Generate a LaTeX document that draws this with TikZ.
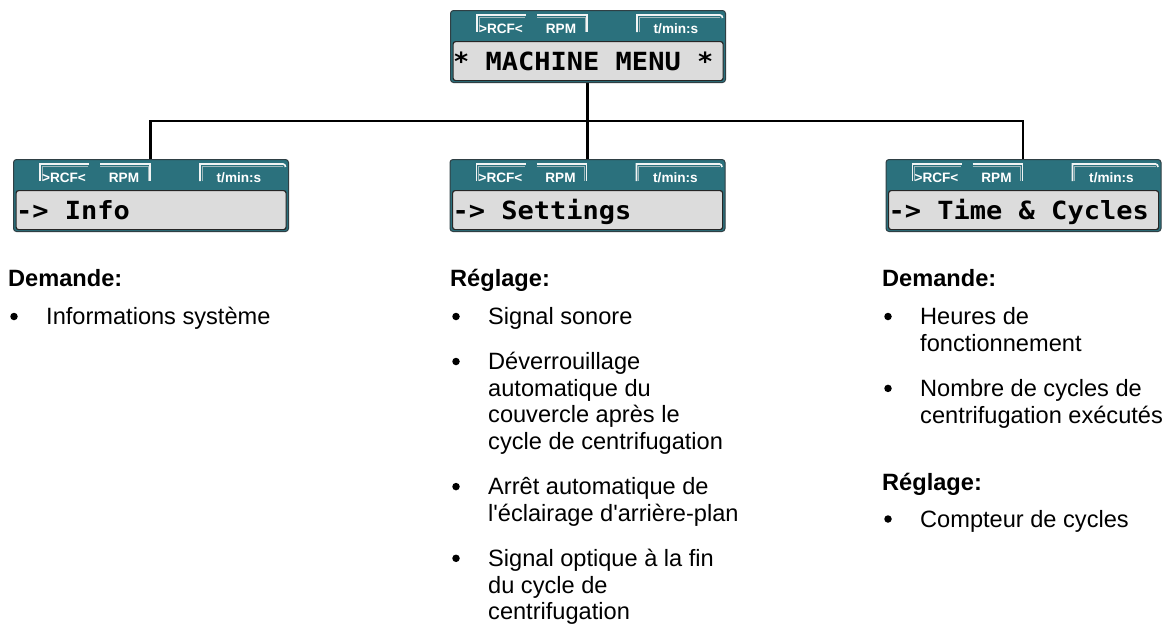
\documentclass[tikz,border=0pt]{standalone}
\usepackage{fontspec}
\setmainfont{Liberation Sans}
\newfontfamily\lcdfont{DejaVu Sans Mono}[FakeStretch=1.08]
\usetikzlibrary{calc}
\definecolor{panelteal}{HTML}{2B717D}
\definecolor{paneledge}{HTML}{2F3F44}
\definecolor{lcdfill}{HTML}{DCDCDC}
\definecolor{tabwhite}{HTML}{F2F4F4}
\definecolor{tabshade}{HTML}{9FB8BC}
\tikzset{
  panel/.style={draw=paneledge, line width=1pt, fill=panelteal, rounded corners=3pt,
    minimum width=275pt, minimum height=72pt, inner sep=0pt, anchor=north west},
  lcd/.style={draw=black!85, line width=1.2pt, fill=lcdfill, rounded corners=2.5pt,
    minimum width=270pt, minimum height=39pt, inner sep=0pt, anchor=north west},
  lcdtext/.style={anchor=base west, inner sep=0pt, font=\lcdfont\bfseries\fontsize{25}{25}\selectfont},
  tabline/.style={draw=tabwhite, line width=1.6pt},
  tabsh/.style={draw=tabshade, line width=0.8pt},
  tablabel/.style={anchor=base, inner sep=0pt, text=white, font=\bfseries\fontsize{13.6}{14}\selectfont},
  conn/.style={draw=black, line width=2.8pt},
  body/.style={anchor=base west, inner sep=0pt, font=\fontsize{23.6}{26.7}\selectfont},
  head/.style={body, font=\bfseries\fontsize{23.6}{26.7}\selectfont},
  bul/.style={circle, fill=black, inner sep=0pt, minimum size=7.5pt},
}
\newcommand{\lcdpanel}[4]{%
  \node[panel] (#1) at (#2,#3) {};
  \node[lcd] (#1-lcd) at (#2+2.5,#3+31) {};
  \draw[tabsh] (#2+29,#3+22) -- (#2+29,#3+7) -- (#2+75,#3+7);
  \draw[tabline] (#2+27,#3+22) -- (#2+27,#3+5) -- (#2+76,#3+5);
  \draw[tabsh] (#2+87,#3+7) -- (#2+135,#3+7) -- (#2+135,#3+22);
  \draw[tabline] (#2+87,#3+5) -- (#2+137,#3+5) -- (#2+137,#3+22);
  \draw[tabsh] (#2+189,#3+22) -- (#2+189,#3+7) -- (#2+270,#3+7);
  \draw[tabline] (#2+187,#3+22) -- (#2+187,#3+5) -- (#2+270,#3+5) to[out=0,in=90] (#2+272.5,#3+8);
  \node[tablabel] (#1-rcf) at (#2+51,#3+23) {>RCF<};
  \node[tablabel] (#1-rpm) at (#2+111,#3+23) {RPM};
  \node[tablabel] (#1-tim) at (#2+226,#3+23) {t/min:s};
  \node[lcdtext] (#1-txt) at (#2+3,#3+60) {#4};
}
\begin{document}
\begin{tikzpicture}[x=1pt,y=-1pt]
\useasboundingbox[fill=white] (0,0) rectangle (1173,630);
% connectors (under the panels)
\draw[conn] (587.5,82) coordinate (mmbot) -- (587.5,159) coordinate (setop);
\draw[conn] (150.5,159) coordinate (infotop) -- (150.5,121) coordinate (busl) -- (1023,121) coordinate (busr) -- (1023,159) coordinate (tctop);
% panels
\lcdpanel{mm}{450}{10}{* MACHINE MENU *}
\lcdpanel{info}{13}{159}{-> Info}
\lcdpanel{settings}{449.5}{159}{-> Settings}
\lcdpanel{timecyc}{885.5}{159}{-> Time \& Cycles}
% left column
\node[head] (h1) at (8,286) {Demande:};
\node[bul] (b11) at (14,316.5) {};
\node[body] (t11) at (46,324.5) {Informations système};
% centre column
\node[head] (h2) at (450,286) {Réglage:};
\node[bul] (b21) at (456,316.5) {};
\node[body] (t21) at (488,324.5) {Signal sonore};
\node[bul] (b22) at (456,361.5) {};
\node[body] (t22) at (488,369.5) {\parbox[t]{400pt}{\raggedright Déverrouillage\\automatique du\\couvercle après le\\cycle de centrifugation}};
\node[bul] (b23) at (456,486.6) {};
\node[body] (t23) at (488,494.6) {\parbox[t]{400pt}{\raggedright Arrêt automatique de\\l\textquotesingle éclairage d\textquotesingle arrière-plan}};
\node[bul] (b24) at (456,558.3) {};
\node[body] (t24) at (488,566.3) {\parbox[t]{400pt}{\raggedright Signal optique à la fin\\du cycle de\\centrifugation}};
% right column
\node[head] (h3) at (882,286) {Demande:};
\node[bul] (b31) at (888,316.5) {};
\node[body] (t31) at (920,324.5) {\parbox[t]{400pt}{\raggedright Heures de\\fonctionnement}};
\node[bul] (b32) at (888,388.4) {};
\node[body] (t32) at (920,396.4) {\parbox[t]{400pt}{\raggedright Nombre de cycles de\\centrifugation exécutés}};
\node[head] (h4) at (882,490) {Réglage:};
\node[bul] (b41) at (888,519) {};
\node[body] (t41) at (920,527) {Compteur de cycles};
\end{tikzpicture}
\end{document}
